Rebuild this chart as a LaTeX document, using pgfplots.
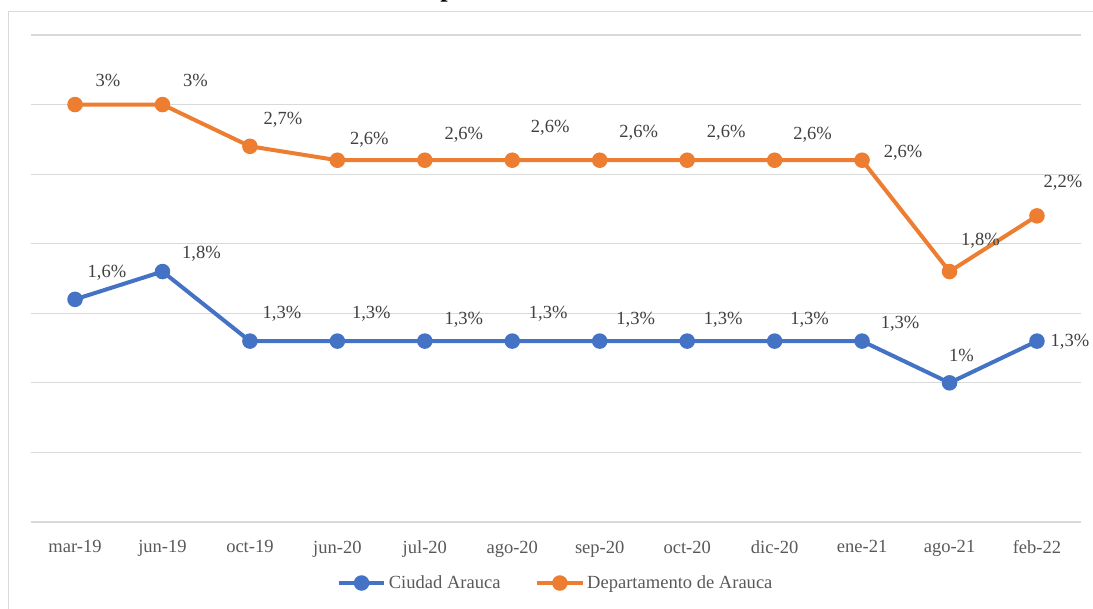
\documentclass[border=0pt]{standalone}
\usepackage{pgfplots}
\pgfplotsset{compat=1.18}
\usepackage{fontspec}
\setmainfont{Liberation Serif}
\definecolor{cblue}{HTML}{4472C4}
\definecolor{corange}{HTML}{ED7D31}
\definecolor{gridc}{HTML}{D9D9D9}
\definecolor{labc}{HTML}{404040}
\definecolor{tickc}{HTML}{595959}
\newcommand{\fs}{\fontsize{13.9}{16}\selectfont}
\tikzset{lbl/.style={font=\fs, text=labc, inner sep=0pt, anchor=center}}
\newcommand{\lab}[5]{\node[lbl, xshift=#3pt, yshift=#4pt] at (axis cs:#1,#2) {#5};}
\begin{document}
\begin{tikzpicture}[x=0.75pt,y=0.75pt]
\useasboundingbox (0,0) rectangle (1093,609);
% frame
\draw[gridc, line width=0.75pt] (8,597) -- (1100,597);
\draw[gridc, line width=0.75pt] (8,597) -- (8,-5);
% title fragment (cut off at the top)
\node[font=\bfseries\fontsize{20}{24}\selectfont, anchor=base west, inner sep=0pt] at (440,612) {p};
\coordinate (A) at (31.3,87);
\begin{axis}[
  at={(A)}, anchor=south west,
  width=787.05pt, height=365.25pt, scale only axis,
  xmin=-0.5, xmax=11.5, ymin=0, ymax=3.5,
  xtick={0,...,11},
  xticklabels={mar-19,jun-19,oct-19,jun-20,jul-20,ago-20,sep-20,oct-20,dic-20,ene-21,ago-21,feb-22},
  ytick={0,0.5,...,3.5}, yticklabels={},
  ymajorgrids, grid style={gridc, line width=0.9pt},
  axis line style={draw=none}, tick style={draw=none},
  major tick length=0pt,
  xticklabel style={font=\fs, text=tickc, yshift=-10.5pt},
  clip=false,
  legend style={draw=none, fill=none, font=\fs, text=tickc, anchor=center, at={(0.5,-0.1253)},
    /tikz/every even column/.append style={column sep=24pt}},
  legend columns=2,
  legend image code/.code={\draw[mark repeat=2,mark phase=2,#1] plot coordinates {(0pt,0pt)(17pt,0pt)(34pt,0pt)};},
]
\addplot[cblue, line width=3pt, mark=*, mark size=4.3pt, mark options={solid}] coordinates {
(0,1.6) (1,1.8) (2,1.3) (3,1.3) (4,1.3) (5,1.3) (6,1.3) (7,1.3) (8,1.3) (9,1.3) (10,1.0) (11,1.3)};
\addlegendentry{Ciudad Arauca}
\addplot[corange, line width=3pt, mark=*, mark size=4.3pt, mark options={solid}] coordinates {
(0,3.0) (1,3.0) (2,2.7) (3,2.6) (4,2.6) (5,2.6) (6,2.6) (7,2.6) (8,2.6) (9,2.6) (10,1.8) (11,2.2)};
\addlegendentry{Departamento de Arauca}
% orange labels
\lab{0}{3.0}{24.75}{18}{3\%}
\lab{1}{3.0}{24.75}{18}{3\%}
\lab{2}{2.7}{24.75}{20.25}{2,7\%}
\lab{3}{2.6}{24}{15}{2,6\%}
\lab{4}{2.6}{29.25}{18.75}{2,6\%}
\lab{5}{2.6}{28.5}{24}{2,6\%}
\lab{6}{2.6}{29.25}{20.25}{2,6\%}
\lab{7}{2.6}{29.25}{20.25}{2,6\%}
\lab{8}{2.6}{28.5}{18.75}{2,6\%}
\lab{9}{2.6}{30.75}{5.25}{2,6\%}
\lab{10}{1.8}{23.25}{23.25}{1,8\%}
\lab{11}{2.2}{19.5}{24.75}{2,2\%}
% blue labels
\lab{0}{1.6}{24}{20.25}{1,6\%}
\lab{1}{1.8}{29.25}{13.5}{1,8\%}
\lab{2}{1.3}{24}{20.25}{1,3\%}
\lab{3}{1.3}{25.5}{20.25}{1,3\%}
\lab{4}{1.3}{29.25}{15.75}{1,3\%}
\lab{5}{1.3}{27}{20.25}{1,3\%}
\lab{6}{1.3}{27}{15.75}{1,3\%}
\lab{7}{1.3}{27}{15.75}{1,3\%}
\lab{8}{1.3}{26.25}{15.75}{1,3\%}
\lab{9}{1.3}{28.5}{12.75}{1,3\%}
\lab{10}{1.0}{9}{20.25}{1\%}
\lab{11}{1.3}{24.75}{-0.75}{1,3\%}
\end{axis}
\end{tikzpicture}
\end{document}
